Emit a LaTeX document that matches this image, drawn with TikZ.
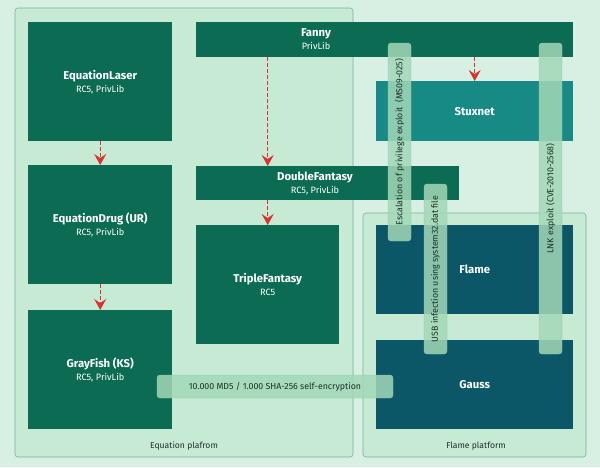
\documentclass[tikz,border=0pt]{standalone}
\usepackage{fontspec}
\setmainfont{Fira Sans}
\usepackage{tikz}
\usetikzlibrary{calc,positioning,arrows.meta}
\definecolor{bgcol}{HTML}{D8F0E3}
\definecolor{platcol}{HTML}{C6EAD4}
\definecolor{platline}{HTML}{74B393}
\definecolor{eqgreen}{HTML}{0C6C53}
\definecolor{stuxcol}{HTML}{178A86}
\definecolor{flamecol}{HTML}{0B5667}
\definecolor{stripcol}{HTML}{A3D8B8}
\definecolor{stripline}{HTML}{8CC9A6}
\definecolor{arrowred}{HTML}{D8332F}
\definecolor{textdark}{HTML}{1C3028}
\tikzset{
  link/.style={-{Stealth[length=11pt,width=12pt,inset=4pt]}, arrowred, line width=1.3pt, dash pattern=on 4pt off 2pt},
  platform/.style={draw=platline, line width=0.6pt, fill=platcol, rounded corners=3pt},
  tool/.style={anchor=north west, inner sep=0pt, text=white, align=center, font=\fontsize{11.3}{13}\selectfont},
  eqbox/.style={tool, fill=eqgreen},
  stuxbox/.style={tool, fill=stuxcol},
  flamebox/.style={tool, fill=flamecol},
  toolname/.style={text=white, align=center, inner sep=0pt, font=\fontsize{11.3}{13}\selectfont},
  strip/.style={fill=stripcol, fill opacity=0.85, text opacity=1, draw=stripline, line width=0.4pt, rounded corners=3pt,
    text=textdark, inner sep=0pt, minimum height=23pt, font=\fontsize{8.8}{10}\selectfont},
  platlabel/.style={text=textdark, font=\fontsize{8.6}{10}\selectfont}
}
\newcommand{\tname}[2]{\textbf{#1}\\{\fontsize{9.2}{11}\selectfont #2}}
\begin{document}
\begin{tikzpicture}[x=1pt,y=-1pt]
  \useasboundingbox[fill=bgcol] (0,0) rectangle (600,467);

  % platforms
  \draw[platform] (15,8) rectangle (353,457);
  \draw[platform] (363,213) rectangle (586,457);
  \node[platlabel] (eqlabel) at (184,446) {Equation plafrom};
  \node[platlabel] (flamelabel) at (476,446) {Flame platform};

  % Equation group
  \node[eqbox, minimum width=144pt, minimum height=119pt] (laser) at (28,22) {\tname{EquationLaser}{RC5, PrivLib}};
  \node[eqbox, minimum width=144pt, minimum height=119pt] (drug) at (28,165) {\tname{EquationDrug (UR)}{RC5, PrivLib}};
  \node[eqbox, minimum width=144pt, minimum height=119pt] (grayfish) at (28,310) {\tname{GrayFish (KS)}{RC5, PrivLib}};
  \node[eqbox, minimum width=377pt, minimum height=35pt] (fanny) at (196,22) {};
  \node[toolname] (fannytext) at (316,39.5) {\tname{Fanny}{PrivLib}};
  \node[eqbox, minimum width=263pt, minimum height=34pt] (double) at (196,166) {};
  \node[toolname] (doubletext) at (315,183) {\tname{DoubleFantasy}{RC5, PrivLib}};
  \node[eqbox, minimum width=143pt, minimum height=119pt] (triple) at (196,225) {\tname{TripleFantasy}{RC5}};

  % Flame group
  \node[stuxbox, minimum width=197pt, minimum height=60pt] (stuxnet) at (376,81) {\textbf{Stuxnet}};
  \node[flamebox, minimum width=197pt, minimum height=89pt] (flame) at (376,225) {\textbf{Flame}};
  \node[flamebox, minimum width=197pt, minimum height=89pt] (gauss) at (376,340) {\textbf{Gauss}};

  % arrows
  \draw[link] (laser) -- (drug);
  \draw[link] (drug) -- (grayfish);
  \draw[link] (fanny.south -| triple.north) -- (double.north -| triple.north);
  \draw[link] (double.south -| triple.north) -- (triple.north);
  \draw[link] (fanny.south -| stuxnet.north) -- (stuxnet.north);

  % shared pieces
  \node[strip, rotate=90, minimum width=198pt] (escalation) at (399.5,142) {Escalation of privilege exploit\ \ (MS09-025)};
  \node[strip, rotate=90, minimum width=170pt] (usb) at (435.5,269) {USB infection using system32.dat file};
  \node[strip, rotate=90, minimum width=311pt] (lnk) at (550.5,198.5) {LNK exploit (CVE-2010-2568)};
  \node[strip, minimum width=236pt] (crypto) at (275,386.5) {10.000 MD5 / 1.000 SHA-256 self-encryption};
\end{tikzpicture}
\end{document}
